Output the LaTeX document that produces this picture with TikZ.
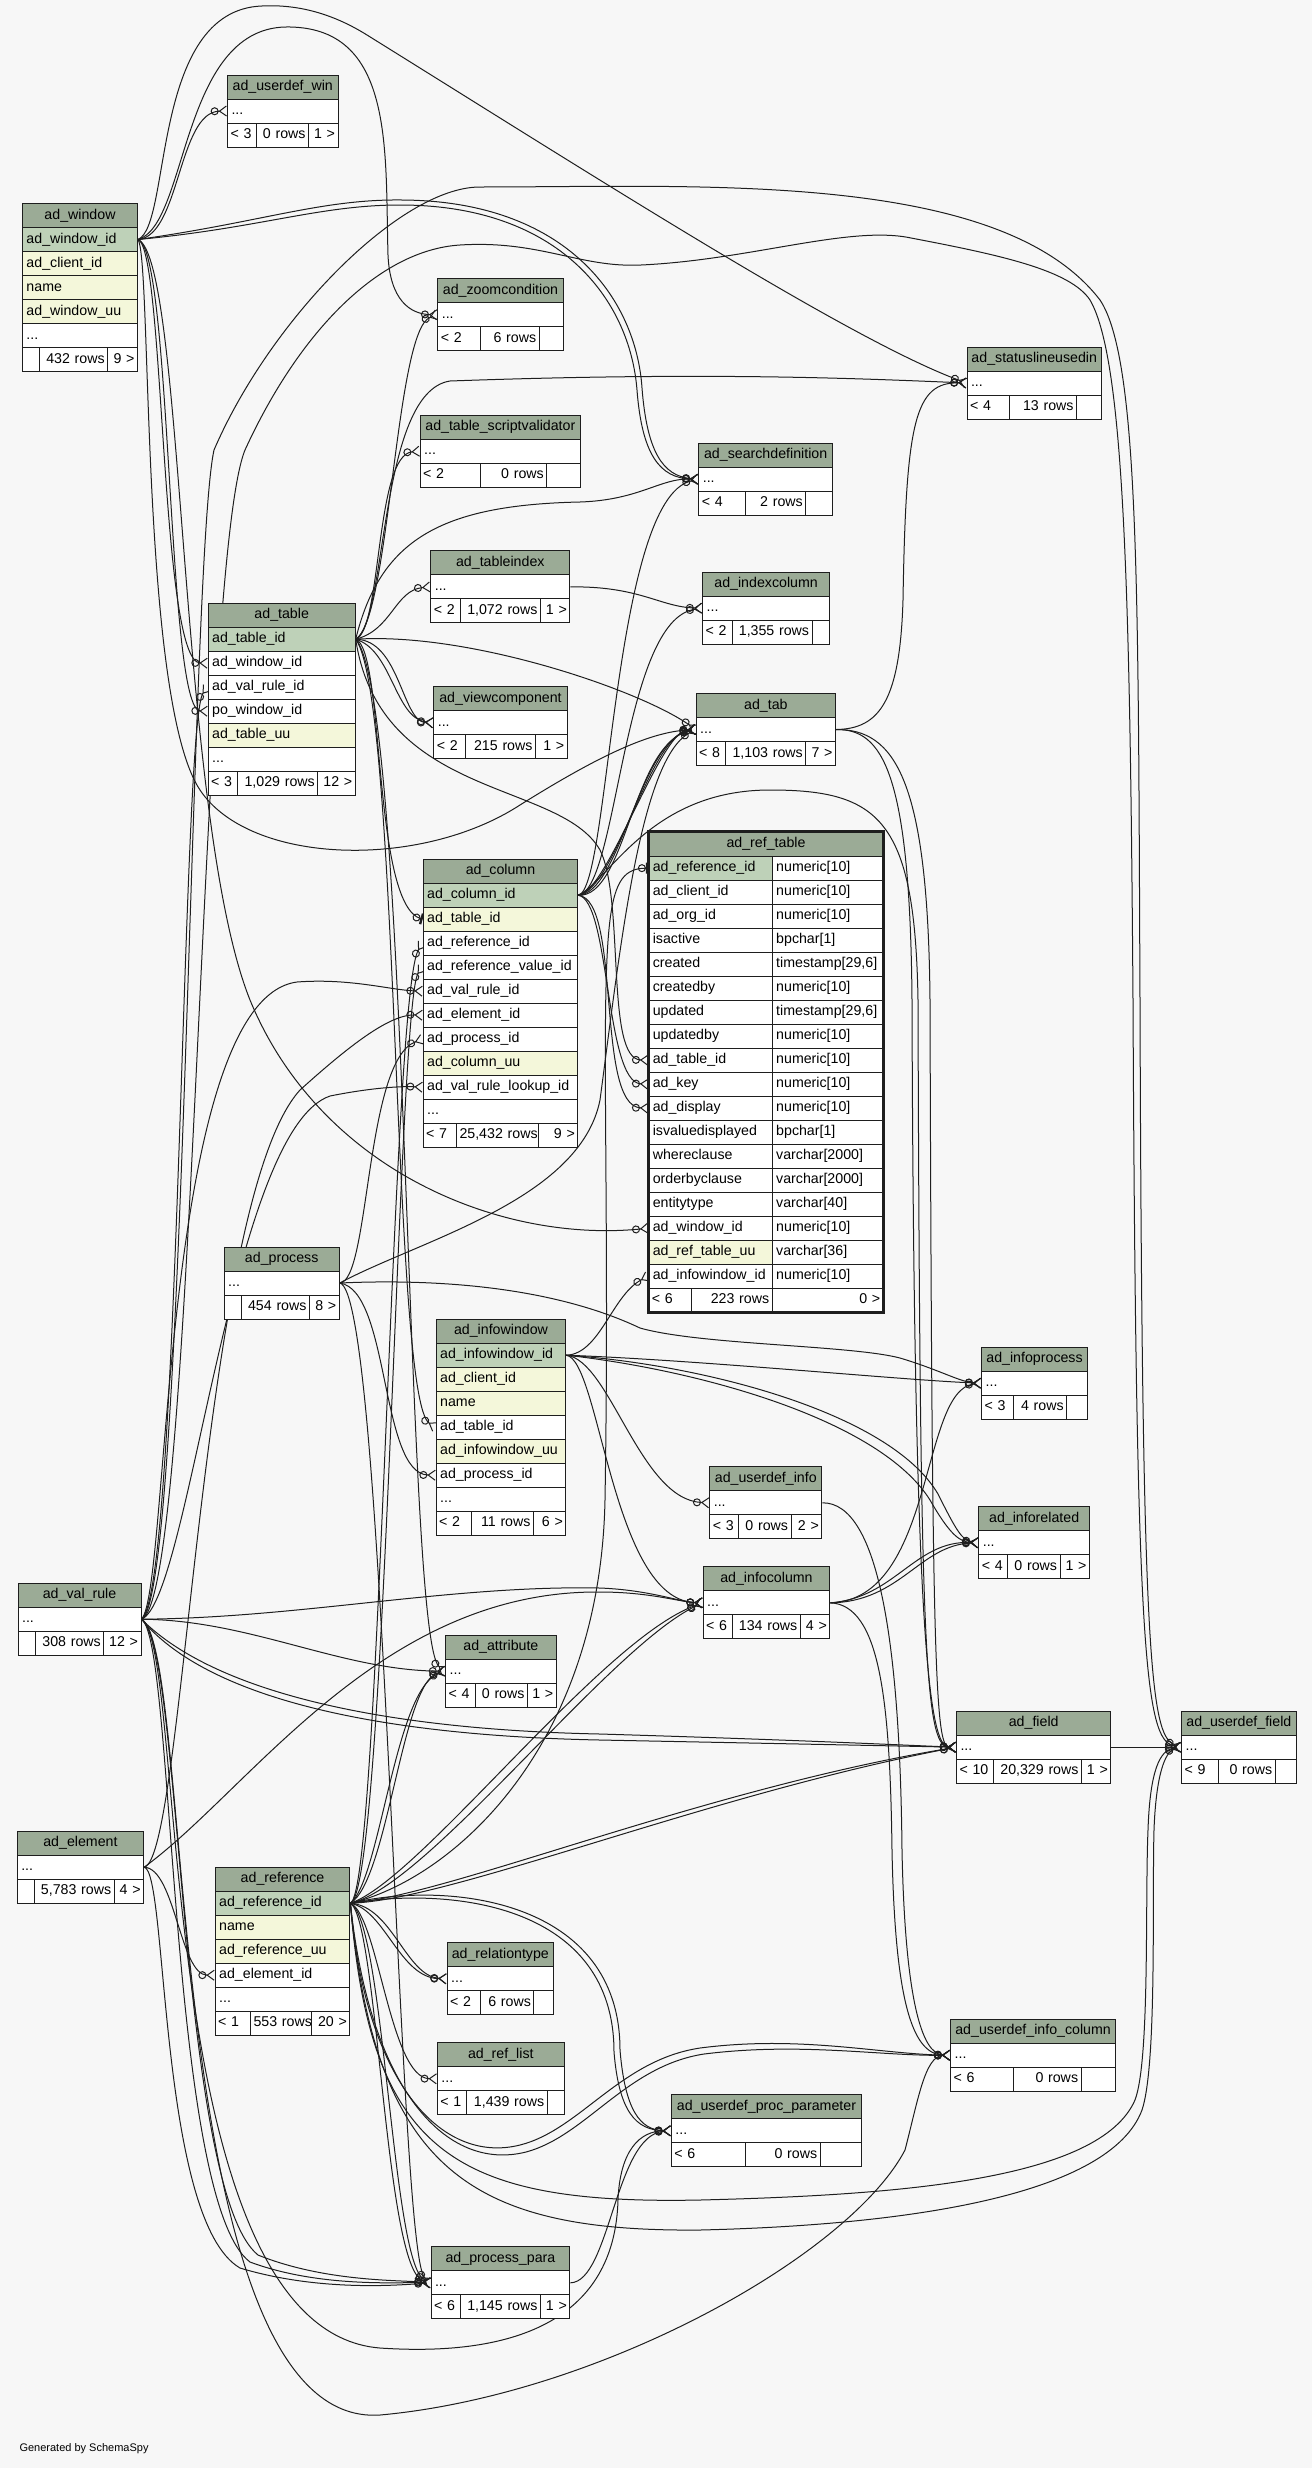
\documentclass[tikz,border=0pt]{standalone}
\usepackage{fontspec}
\setmainfont{Liberation Sans}
\usetikzlibrary{arrows.meta}
\definecolor{paper}{HTML}{F7F7F7}
\definecolor{headfill}{HTML}{9BAB96}
\definecolor{keyfill}{HTML}{BED1B8}
\definecolor{idxfill}{HTML}{F4F7DA}
\definecolor{rim}{HTML}{1E1E1E}
\pgfdeclarelayer{paperlayer}
\pgfdeclarelayer{wires}
\pgfsetlayers{paperlayer,wires,main}
\tikzset{
  cell/.style={draw=rim, line width=1pt, anchor=north west, minimum height=24pt,
               inner xsep=4pt, inner ysep=0pt, text height=10.5pt, text depth=3pt,
               font=\fontsize{14.2}{17}\selectfont, align=left},
  hd/.style={cell, fill=headfill, align=center},
  pk/.style={cell, fill=keyfill},
  ix/.style={cell, fill=idxfill},
  col/.style={cell, fill=white},
  ftl/.style={cell, fill=white, inner xsep=3pt, align=left},
  ftr/.style={cell, fill=white, inner xsep=3pt, align=right},
  fk/.style={line width=1pt, rim,
             -{Circle[open,length=8pt] Straight Barb[reversed,length=7pt,width=10pt]}},
  fkone/.style={line width=1pt, rim,
             -{Circle[open,length=8pt] Bar[width=11pt,line width=2.4pt]}},
}
\newcommand\rowdots{...}
% name, x, y, width, rows
\newcommand\dbtable[5]{%
  \pgfmathsetmacro\tw{#4-8}%
  \node[hd, text width=\tw pt] (#1) at (#2,#3) {#1};
  \foreach \st/\txt [count=\i] in {#5}
    \node[\st, text width=\tw pt] (#1-\i) at (#2,#3+24*\i) {\txt};
}
% name, y, x0, x1, x2, x3, cells
\newcommand\dbfoot[9]{%
  \pgfmathsetmacro\wa{#4-#3-6}\pgfmathsetmacro\wb{#5-#4-6}\pgfmathsetmacro\wc{#6-#5-6}%
  \node[ftl, text width=\wa pt] (#1-f1) at (#3,#2) {\mbox{#7}};
  \node[ftr, text width=\wb pt] (#1-f2) at (#4,#2) {\mbox{#8}};
  \node[ftr, text width=\wc pt] (#1-f3) at (#5,#2) {\mbox{#9}};
}
\begin{document}
\catcode`\_=12
\begin{tikzpicture}[x=1pt, y=-1pt]
  \useasboundingbox (0,0) rectangle (1312,2468);
  \begin{pgfonlayer}{paperlayer}
    \fill[paper] (0,0) rectangle (1312,2468);
  \end{pgfonlayer}

  \dbtable{ad_window}{22}{203}{115}{pk/ad_window_id, ix/ad_client_id, ix/name, ix/ad_window_uu, col/\rowdots}
  \dbfoot{ad_window}{347}{22}{39.4}{107.2}{137}{}{432 rows}{9 >}
  \dbtable{ad_userdef_win}{227}{74.5}{110.5}{col/\rowdots}
  \dbfoot{ad_userdef_win}{122.5}{227}{255.6}{308.1}{337.5}{< 3}{0 rows}{1 >}
  \dbtable{ad_zoomcondition}{437.3}{278.3}{125.4}{col/\rowdots}
  \dbfoot{ad_zoomcondition}{326.3}{437.3}{479.7}{538.7}{562.7}{< 2}{6 rows}{}
  \dbtable{ad_table_scriptvalidator}{419.7}{414.7}{160.3}{col/\rowdots}
  \dbfoot{ad_table_scriptvalidator}{462.7}{419.7}{479.7}{546.3}{580}{< 2}{0 rows}{}
  \dbtable{ad_searchdefinition}{698.3}{442.7}{133.7}{col/\rowdots}
  \dbfoot{ad_searchdefinition}{490.7}{698.3}{745.3}{805.3}{832}{< 4}{2 rows}{}
  \dbtable{ad_statuslineusedin}{966.5}{346.5}{134.5}{col/\rowdots}
  \dbfoot{ad_statuslineusedin}{394.5}{966.5}{1009}{1076}{1101}{< 4}{13 rows}{}
  \dbtable{ad_tableindex}{430.3}{550.4}{139}{col/\rowdots}
  \dbfoot{ad_tableindex}{598.4}{430.3}{459.7}{540}{569.3}{< 2}{1,072 rows}{1 >}
  \dbtable{ad_indexcolumn}{702.2}{571.7}{126.8}{col/\rowdots}
  \dbfoot{ad_indexcolumn}{619.7}{702.2}{731.7}{811.6}{829}{< 2}{1,355 rows}{}
  \dbtable{ad_table}{207.7}{602.7}{147}{pk/ad_table_id, col/ad_window_id, col/ad_val_rule_id, col/po_window_id, ix/ad_table_uu, col/\rowdots}
  \dbfoot{ad_table}{770.7}{207.7}{237.3}{317.3}{354.7}{< 3}{1,029 rows}{12 >}
  \dbtable{ad_viewcomponent}{433.3}{686.3}{133.4}{col/\rowdots}
  \dbfoot{ad_viewcomponent}{734.3}{433.3}{465.3}{535}{566.7}{< 2}{215 rows}{1 >}
  \dbtable{ad_tab}{695.7}{693}{139.3}{col/\rowdots}
  \dbfoot{ad_tab}{741}{695.7}{725}{805.3}{835}{< 8}{1,103 rows}{7 >}
  \dbtable{ad_column}{422.7}{858.7}{154.6}{pk/ad_column_id, ix/ad_table_id, col/ad_reference_id, col/ad_reference_value_id, col/ad_val_rule_id, col/ad_element_id, col/ad_process_id, ix/ad_column_uu, col/ad_val_rule_lookup_id, col/\rowdots}
  \dbfoot{ad_column}{1122.7}{422.7}{456}{538}{577.3}{< 7}{25,432 rows}{9 >}

  \node[hd, text width=226.4pt] (ad_ref_table) at (648.3,831.7) {ad_ref_table};
  \foreach \st/\nm/\ty [count=\i] in {pk/ad_reference_id/numeric[10], col/ad_client_id/numeric[10],
      col/ad_org_id/numeric[10], col/isactive/bpchar[1], col/created/{timestamp[29,6]},
      col/createdby/numeric[10], col/updated/{timestamp[29,6]}, col/updatedby/numeric[10],
      col/ad_table_id/numeric[10], col/ad_key/numeric[10], col/ad_display/numeric[10],
      col/isvaluedisplayed/bpchar[1], col/whereclause/varchar[2000], col/orderbyclause/varchar[2000],
      col/entitytype/varchar[40], col/ad_window_id/numeric[10], ix/ad_ref_table_uu/varchar[36],
      col/ad_infowindow_id/numeric[10]}
  {
    \node[\st, text width=115.4pt] (ad_ref_table-\i) at (648.3,831.7+24*\i) {\nm};
    \node[col, text width=103pt] (ad_ref_table-t\i) at (771.7,831.7+24*\i) {\ty};
  }
  \dbfoot{ad_ref_table}{1287.7}{648.3}{690.7}{771.7}{882.7}{< 6}{223 rows}{0 >}
  \draw[rim, line width=3pt] (ad_ref_table.north west) rectangle (ad_ref_table-f3.south east);

  \dbtable{ad_process}{223.7}{1246.5}{115}{col/\rowdots}
  \dbfoot{ad_process}{1294.5}{223.7}{241.3}{309}{338.7}{}{454 rows}{8 >}
  \dbtable{ad_infowindow}{435.7}{1318.7}{129.6}{pk/ad_infowindow_id, ix/ad_client_id, ix/name, col/ad_table_id, ix/ad_infowindow_uu, col/ad_process_id, col/\rowdots}
  \dbfoot{ad_infowindow}{1510.7}{435.7}{470.7}{533}{565.3}{< 2}{11 rows}{6 >}
  \dbtable{ad_infoprocess}{981.2}{1346.7}{105.7}{col/\rowdots}
  \dbfoot{ad_infoprocess}{1394.7}{981.2}{1012.8}{1066.2}{1086.9}{< 3}{4 rows}{}
  \dbtable{ad_userdef_info}{709.3}{1466.3}{112}{col/\rowdots}
  \dbfoot{ad_userdef_info}{1514.3}{709.3}{738.4}{790.6}{821.3}{< 3}{0 rows}{2 >}
  \dbtable{ad_inforelated}{978.3}{1506.3}{110.7}{col/\rowdots}
  \dbfoot{ad_inforelated}{1554.3}{978.3}{1007.3}{1059.5}{1089}{< 4}{0 rows}{1 >}
  \dbtable{ad_infocolumn}{702.6}{1566.3}{126.7}{col/\rowdots}
  \dbfoot{ad_infocolumn}{1614.3}{702.6}{732.1}{799.8}{829.3}{< 6}{134 rows}{4 >}
  \dbtable{ad_field}{956}{1710.7}{154.4}{col/\rowdots}
  \dbfoot{ad_field}{1758.7}{956}{993.4}{1081}{1110.4}{< 10}{20,329 rows}{1 >}
  \dbtable{ad_userdef_field}{1181.1}{1710.7}{114.5}{col/\rowdots}
  \dbfoot{ad_userdef_field}{1758.7}{1181.1}{1218.2}{1274.6}{1295.6}{< 9}{0 rows}{}
  \dbtable{ad_val_rule}{17.6}{1582.7}{122.9}{col/\rowdots}
  \dbfoot{ad_val_rule}{1630.7}{17.6}{35.2}{103.3}{140.5}{}{308 rows}{12 >}
  \dbtable{ad_attribute}{445.1}{1634.7}{110.6}{col/\rowdots}
  \dbfoot{ad_attribute}{1682.7}{445.1}{474.6}{527}{555.7}{< 4}{0 rows}{1 >}
  \dbtable{ad_element}{16.8}{1830.7}{126.3}{col/\rowdots}
  \dbfoot{ad_element}{1878.7}{16.8}{33.7}{113.7}{143.1}{}{5,783 rows}{4 >}
  \dbtable{ad_reference}{214.7}{1866.7}{134.7}{pk/ad_reference_id, ix/name, ix/ad_reference_uu, col/ad_element_id, col/\rowdots}
  \dbfoot{ad_reference}{2010.7}{214.7}{250}{311}{349.4}{< 1}{553 rows}{20 >}
  \dbtable{ad_relationtype}{446.6}{1942.3}{106.5}{col/\rowdots}
  \dbfoot{ad_relationtype}{1990.3}{446.6}{479.6}{533.4}{553.1}{< 2}{6 rows}{}
  \dbtable{ad_ref_list}{436.9}{2042.3}{126.8}{col/\rowdots}
  \dbfoot{ad_ref_list}{2090.3}{436.9}{466.3}{546.7}{563.7}{< 1}{1,439 rows}{}
  \dbtable{ad_userdef_info_column}{950.2}{2018.7}{164.8}{col/\rowdots}
  \dbfoot{ad_userdef_info_column}{2066.7}{950.2}{1012.7}{1080.6}{1115}{< 6}{0 rows}{}
  \dbtable{ad_userdef_proc_parameter}{670.9}{2094.3}{190.1}{col/\rowdots}
  \dbfoot{ad_userdef_proc_parameter}{2142.3}{670.9}{745.1}{819.7}{861}{< 6}{0 rows}{}
  \dbtable{ad_process_para}{430.5}{2246.3}{138.9}{col/\rowdots}
  \dbfoot{ad_process_para}{2294.3}{430.5}{460}{540}{569.4}{< 6}{1,145 rows}{1 >}

  \node[anchor=west, font=\fontsize{11}{13}\selectfont] (credit) at (16,2449) {Generated by SchemaSpy};

  \begin{pgfonlayer}{wires}
    % ad_window
    \draw[fk] (ad_window-1.east) .. controls (180,236) and (178,112) .. (ad_userdef_win-1.west);
    \draw[fk] (ad_window-1.east) .. controls (172,225) and (150,10) .. (262,6) .. controls (300,4) and (335,15) .. (367,35) .. controls (600,180) and (850,340) .. (ad_statuslineusedin-1.west);
    \draw[fk] (ad_window-1.east) .. controls (188,225) and (180,30) .. (285,27) .. controls (395,25) and (385,150) .. (388,255) .. controls (390,300) and (410,314) .. (ad_zoomcondition-1.west);
    \draw[fk] (ad_window-1.east) .. controls (260,228) and (320,205) .. (400,205) .. controls (560,205) and (630,300) .. (637,390) .. controls (642,455) and (660,478) .. (ad_searchdefinition-1.west);
    \draw[fk] (ad_window-1.east) .. controls (262,222) and (322,199) .. (402,200) .. controls (566,201) and (636,298) .. (642,388) .. controls (647,452) and (663,476) .. (ad_searchdefinition-1.west);
    \draw[fk] (ad_window-1.east) .. controls (165,250) and (160,662) .. (ad_table-2.west);
    \draw[fk] (ad_window-1.east) .. controls (172,250) and (167,710) .. (ad_table-4.west);
    \draw[fk] (ad_window-1.east) .. controls (152,260) and (140,700) .. (200,790) .. controls (250,865) and (420,870) .. (520,805) .. controls (600,755) and (650,732) .. (ad_tab-1.west);
    \draw[fk] (ad_window-1.east) .. controls (185,260) and (178,820) .. (250,1000) .. controls (320,1170) and (500,1243) .. (ad_ref_table-16.west);
    % ad_val_rule
    \draw[fk] (ad_val_rule-1.east) .. controls (185,1600) and (190,560) .. (214,450) .. controls (270,320) and (400,187) .. (480,187) .. controls (700,187) and (1000,170) .. (1100,300) .. controls (1140,360) and (1138,600) .. (1140,1000) .. controls (1142,1650) and (1150,1735) .. (ad_userdef_field-1.west);
    \draw[fk] (ad_val_rule-1.east) .. controls (195,1600) and (200,560) .. (245,450) .. controls (300,330) and (380,250) .. (460,245) .. controls (540,240) and (580,268) .. (641,265) .. controls (750,260) and (850,225) .. (911,238) .. controls (1000,255) and (1070,270) .. (1090,300) .. controls (1125,360) and (1130,600) .. (1133,1000) .. controls (1136,1650) and (1145,1740) .. (ad_userdef_field-1.west);
    \draw[fk] (ad_val_rule-1.east) .. controls (180,1590) and (182,720) .. (ad_table-3.west);
    \draw[fk] (ad_val_rule-1.east) .. controls (170,1590) and (160,1000) .. (297,982) .. controls (350,978) and (390,990) .. (ad_column-5.west);
    \draw[fk] (ad_val_rule-1.east) .. controls (190,1600) and (230,1130) .. (330,1096) .. controls (370,1088) and (400,1086) .. (ad_column-9.west);
    \draw[fk] (ad_val_rule-1.east) .. controls (300,1618) and (450,1585) .. (600,1588) .. controls (650,1590) and (680,1602) .. (ad_infocolumn-1.west);
    \draw[fk] (ad_val_rule-1.east) .. controls (250,1620) and (340,1670) .. (ad_attribute-1.west);
    \draw[fk] (ad_val_rule-1.east) .. controls (200,1690) and (350,1735) .. (600,1740) .. controls (800,1744) and (900,1746) .. (ad_field-1.west);
    \draw[fk] (ad_val_rule-1.east) .. controls (206,1684) and (355,1729) .. (600,1734) .. controls (800,1740) and (900,1745) .. (ad_field-1.west);
    \draw[fk] (ad_val_rule-1.east) .. controls (175,1640) and (168,2200) .. (250,2262) .. controls (320,2288) and (400,2282) .. (ad_process_para-1.west);
    \draw[fk] (ad_val_rule-1.east) .. controls (182,1640) and (178,2190) .. (258,2255) .. controls (325,2282) and (400,2280) .. (ad_process_para-1.west);
    \draw[fk] (ad_val_rule-1.east) .. controls (188,1650) and (150,2330) .. (380,2348) .. controls (530,2358) and (615,2310) .. (618,2200) .. controls (620,2150) and (640,2131) .. (ad_userdef_proc_parameter-1.west);
    \draw[fk] (ad_val_rule-1.east) .. controls (195,1650) and (160,2430) .. (380,2415) .. controls (600,2395) and (850,2255) .. (905,2150) .. controls (918,2100) and (925,2056) .. (ad_userdef_info_column-1.west);
    % ad_element
    \draw[fk] (ad_element-1.east) .. controls (185,1860) and (200,1200) .. (300,1090) .. controls (350,1045) and (390,1014) .. (ad_column-6.west);
    \draw[fk] (ad_element-1.east) .. controls (175,1868) and (180,1975) .. (ad_reference-4.west);
    \draw[fk] (ad_element-1.east) .. controls (250,1790) and (380,1590) .. (600,1592) .. controls (650,1592) and (680,1602) .. (ad_infocolumn-1.west);
    \draw[fk] (ad_element-1.east) .. controls (168,1870) and (158,2220) .. (240,2268) .. controls (320,2292) and (400,2285) .. (ad_process_para-1.west);
    % ad_table
    \draw[fk] (ad_table-1.east) .. controls (390,620) and (395,330) .. (ad_zoomcondition-1.west);
    \draw[fk] (ad_table-1.east) .. controls (382,630) and (375,455) .. (ad_table_scriptvalidator-1.west);
    \draw[fk] (ad_table-1.east) .. controls (388,620) and (378,392) .. (450,381) .. controls (700,372) and (850,378) .. (ad_statuslineusedin-1.west);
    \draw[fk] (ad_table-1.east) .. controls (380,540) and (440,505) .. (580,502) .. controls (640,500) and (660,478) .. (ad_searchdefinition-1.west);
    \draw[fk] (ad_table-1.east) .. controls (392,630) and (395,590) .. (ad_tableindex-1.west);
    \draw[fk] (ad_table-1.east) .. controls (392,650) and (395,718) .. (ad_viewcomponent-1.west);
    \draw[fk] (ad_table-1.east) .. controls (400,640) and (402,722) .. (ad_viewcomponent-1.west);
    \draw[fk] (ad_table-1.east) .. controls (470,632) and (640,690) .. (ad_tab-1.west);
    \draw[fkone] (ad_table-1.east) .. controls (385,650) and (372,905) .. (ad_column-2.west);
    \draw[fk] (ad_table-1.east) .. controls (380,800) and (560,780) .. (600,850) .. controls (625,900) and (605,1059) .. (ad_ref_table-9.west);
    \draw[fk] (ad_table-1.east) .. controls (400,700) and (392,1400) .. (ad_infowindow-4.west);
    \draw[fk] (ad_table-1.east) .. controls (410,700) and (405,1640) .. (ad_attribute-1.west);
    % ad_column
    \draw[fk] (ad_column-1.east) .. controls (620,894) and (640,740) .. (ad_tab-1.west);
    \draw[fk] (ad_column-1.east) .. controls (615,890) and (650,735) .. (ad_tab-1.west);
    \draw[fk] (ad_column-1.east) .. controls (626,898) and (632,745) .. (ad_tab-1.west);
    \draw[fk] (ad_column-1.east) .. controls (608,892) and (660,730) .. (ad_tab-1.west);
    \draw[fk] (ad_column-1.east) .. controls (610,890) and (612,500) .. (ad_searchdefinition-1.west);
    \draw[fk] (ad_column-1.east) .. controls (618,890) and (622,620) .. (ad_indexcolumn-1.west);
    \draw[fk] (ad_column-1.east) .. controls (610,900) and (605,1082) .. (ad_ref_table-10.west);
    \draw[fk] (ad_column-1.east) .. controls (622,900) and (595,1106) .. (ad_ref_table-11.west);
    \draw[fk] (ad_column-1.east) .. controls (610,880) and (650,790) .. (770,790) .. controls (880,790) and (915,820) .. (918,1000) .. controls (920,1650) and (925,1746) .. (ad_field-1.west);
    % ad_tab, ad_tableindex
    \draw[fk] (ad_tab-1.east) .. controls (880,729) and (900,700) .. (903,600) .. controls (906,420) and (915,382) .. (ad_statuslineusedin-1.west);
    \draw[fk] (ad_tab-1.east) .. controls (895,729) and (928,780) .. (930,1000) .. controls (932,1650) and (935,1746) .. (ad_field-1.west);
    \draw[fk] (ad_tab-1.east) .. controls (882,729) and (910,770) .. (912,1000) .. controls (914,1650) and (930,1746) .. (ad_field-1.west);
    \draw[fk] (ad_tableindex-1.east) .. controls (640,586) and (660,607) .. (ad_indexcolumn-1.west);
    % ad_reference
    \draw[fk] (ad_reference-1.east) .. controls (380,1890) and (392,990) .. (ad_column-3.west);
    \draw[fk] (ad_reference-1.east) .. controls (386,1890) and (398,1000) .. (ad_column-4.west);
    \draw[fkone] (ad_reference-1.east) .. controls (450,1880) and (600,1750) .. (605,1500) .. controls (610,1200) and (600,1000) .. (610,920) .. controls (615,880) and (625,868) .. (ad_ref_table-1.west);
    \draw[fk] (ad_reference-1.east) .. controls (380,1880) and (395,1690) .. (ad_attribute-1.west);
    \draw[fk] (ad_reference-1.east) .. controls (388,1880) and (402,1682) .. (ad_attribute-1.west);
    \draw[fk] (ad_reference-1.east) .. controls (420,1880) and (600,1640) .. (ad_infocolumn-1.west);
    \draw[fk] (ad_reference-1.east) .. controls (428,1886) and (608,1648) .. (ad_infocolumn-1.west);
    \draw[fk] (ad_reference-1.east) .. controls (450,1895) and (700,1790) .. (ad_field-1.west);
    \draw[fk] (ad_reference-1.east) .. controls (452,1900) and (702,1796) .. (ad_field-1.west);
    \draw[fk] (ad_reference-1.east) .. controls (385,1910) and (400,1978) .. (ad_relationtype-1.west);
    \draw[fk] (ad_reference-1.east) .. controls (392,1906) and (406,1976) .. (ad_relationtype-1.west);
    \draw[fk] (ad_reference-1.east) .. controls (378,1915) and (390,2078) .. (ad_ref_list-1.west);
    \draw[fk] (ad_reference-1.east) .. controls (450,1880) and (620,1900) .. (620,2050) .. controls (625,2110) and (640,2130) .. (ad_userdef_proc_parameter-1.west);
    \draw[fk] (ad_reference-1.east) .. controls (455,1886) and (614,1906) .. (614,2052) .. controls (619,2112) and (636,2130) .. (ad_userdef_proc_parameter-1.west);
    \draw[fk] (ad_reference-1.east) .. controls (365,2080) and (440,2165) .. (520,2145) .. controls (580,2130) and (620,2060) .. (700,2048) .. controls (800,2035) and (880,2054) .. (ad_userdef_info_column-1.west);
    \draw[fk] (ad_reference-1.east) .. controls (370,2090) and (446,2172) .. (526,2152) .. controls (586,2136) and (626,2066) .. (704,2054) .. controls (800,2042) and (880,2056) .. (ad_userdef_info_column-1.west);
    \draw[fk] (ad_reference-1.east) .. controls (370,2150) and (450,2205) .. (700,2200) .. controls (900,2195) and (1100,2180) .. (1135,2100) .. controls (1150,2060) and (1145,1900) .. (1148,1830) .. controls (1150,1770) and (1160,1750) .. (ad_userdef_field-1.west);
    \draw[fk] (ad_reference-1.east) .. controls (375,2170) and (470,2232) .. (700,2230) .. controls (910,2225) and (1110,2195) .. (1142,2110) .. controls (1157,2065) and (1152,1900) .. (1154,1830) .. controls (1156,1775) and (1165,1752) .. (ad_userdef_field-1.west);
    \draw[fk] (ad_reference-1.east) .. controls (378,1920) and (385,2270) .. (ad_process_para-1.west);
    \draw[fk] (ad_reference-1.east) .. controls (384,1920) and (392,2262) .. (ad_process_para-1.west);
    % ad_process
    \draw[fk] (ad_process-1.east) .. controls (370,1282) and (365,1060) .. (ad_column-7.west);
    \draw[fk] (ad_process-1.east) .. controls (390,1290) and (380,1474) .. (ad_infowindow-6.west);
    \draw[fk] (ad_process-1.east) .. controls (450,1278) and (560,1290) .. (640,1328) .. controls (700,1345) and (850,1345) .. (900,1358) .. controls (940,1370) and (960,1382) .. (ad_infoprocess-1.west);
    \draw[fk] (ad_process-1.east) .. controls (420,1240) and (580,1200) .. (600,1100) .. controls (620,950) and (640,760) .. (ad_tab-1.west);
    \draw[fk] (ad_process-1.east) .. controls (385,1290) and (398,2255) .. (ad_process_para-1.west);
    % ad_infowindow
    \draw[fk] (ad_infowindow-1.east) .. controls (600,1354) and (612,1295) .. (ad_ref_table-18.west);
    \draw[fk] (ad_infowindow-1.east) .. controls (700,1360) and (900,1380) .. (ad_infoprocess-1.west);
    \draw[fk] (ad_infowindow-1.east) .. controls (700,1370) and (880,1420) .. (930,1500) .. controls (950,1535) and (960,1542) .. (ad_inforelated-1.west);
    \draw[fk] (ad_infowindow-1.east) .. controls (700,1364) and (890,1412) .. (938,1494) .. controls (956,1530) and (962,1540) .. (ad_inforelated-1.west);
    \draw[fk] (ad_infowindow-1.east) .. controls (610,1360) and (640,1500) .. (ad_userdef_info-1.west);
    \draw[fk] (ad_infowindow-1.east) .. controls (600,1360) and (612,1600) .. (ad_infocolumn-1.west);
    % ad_infocolumn and the rest
    \draw[fk] (ad_infocolumn-1.east) .. controls (900,1602) and (920,1545) .. (ad_inforelated-1.west);
    \draw[fk] (ad_infocolumn-1.east) .. controls (895,1598) and (915,1540) .. (ad_inforelated-1.west);
    \draw[fk] (ad_infocolumn-1.east) .. controls (935,1600) and (920,1390) .. (ad_infoprocess-1.west);
    \draw[fk] (ad_infocolumn-1.east) .. controls (880,1605) and (890,1700) .. (892,1850) .. controls (895,2000) and (912,2054) .. (ad_userdef_info_column-1.west);
    \draw[fk] (ad_userdef_info-1.east) .. controls (880,1502) and (900,1650) .. (902,1850) .. controls (905,2000) and (922,2054) .. (ad_userdef_info_column-1.west);
    \draw[fk] (ad_field-1.east) -- (ad_userdef_field-1.west);
    \draw[fk] (ad_process_para-1.east) .. controls (610,2282) and (615,2135) .. (ad_userdef_proc_parameter-1.west);
  \end{pgfonlayer}
\end{tikzpicture}
\end{document}
